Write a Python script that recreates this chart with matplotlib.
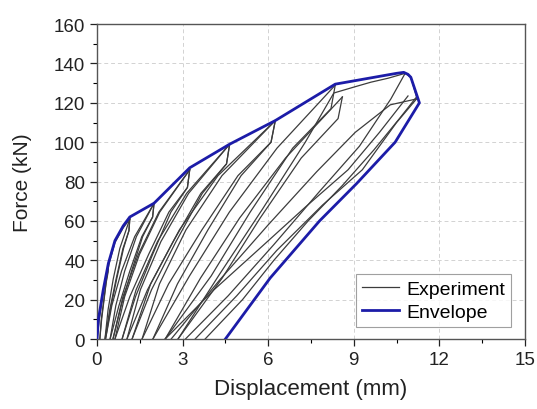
import matplotlib
matplotlib.use("Agg")
import matplotlib.pyplot as plt
from matplotlib.ticker import MultipleLocator

plt.rcParams['font.family'] = ['Liberation Sans', 'DejaVu Sans']

# ---- data: experiment branches (displacement mm, force kN) ----
exp_x = [
    [0.0, 0.08, 0.22, 0.4],
    [0.4, 0.39, 0.32, 0.24, 0.16, 0.1],
    [0.1, 0.15, 0.24, 0.33, 0.42, 0.63, 0.92, 1.15],
    [1.15, 1.12, 0.91, 0.67, 0.45, 0.28],
    [0.28, 0.39, 0.57, 0.80, 1.15],
    [1.15, 1.12, 0.93, 0.69, 0.47, 0.3],
    [0.3, 0.52, 0.86, 1.32, 2.0],
    [2.0, 1.95, 1.57, 1.15, 0.77, 0.46],
    [0.46, 0.66, 0.97, 1.38, 2.0],
    [2.0, 1.95, 1.60, 1.21, 0.85, 0.56],
    [0.56, 0.91, 1.45, 2.17, 3.25],
    [3.25, 3.17, 2.52, 1.81, 1.15, 0.63],
    [0.63, 0.97, 1.49, 2.20, 3.25],
    [3.25, 3.17, 2.59, 1.95, 1.35, 0.88],
    [0.88, 1.37, 2.12, 3.14, 4.65],
    [4.65, 4.54, 3.64, 2.67, 1.77, 1.05],
    [1.05, 1.52, 2.24, 3.21, 4.65],
    [4.65, 4.54, 3.69, 2.77, 1.91, 1.23],
    [1.23, 1.88, 2.89, 4.24, 6.25],
    [6.25, 6.1, 4.94, 3.68, 2.51, 1.58],
    [1.58, 2.19, 3.12, 4.38, 6.25],
    [6.25, 6.1, 5.05, 3.89, 2.82, 1.96],
    [1.96, 3.24, 4.64, 6.31, 8.35],
    [8.35, 8.2, 6.86, 5.37, 4.0, 2.39],
    [2.39, 3.63, 5.0, 6.61, 8.6],
    [8.6, 8.45, 7.16, 5.72, 4.39, 2.84],
    [2.84, 4.3, 5.8, 7.3, 8.3, 9.0, 9.6, 10.2, 10.8],
    [10.8, 11.0, 11.2],
    [11.2, 10.6, 9.7, 8.6, 7.4, 6.2, 5.1, 3.79],
    [3.44, 4.9, 6.3, 7.9, 9.3, 10.5, 11.2],
    [2.39, 4.1, 5.78, 7.3, 8.8, 9.9, 10.9],
    [10.8, 10.3, 9.2, 7.8, 6.2, 4.6, 3.1],
    [2.6, 4.3, 6.0, 7.7, 9.05, 10.28, 11.2],
]
exp_y = [
    [0, 10, 24, 38],
    [38, 34, 28.5, 19, 9.5, 0],
    [0, 10, 20, 30, 38, 49, 56.5, 61],
    [61, 55, 46, 30.5, 15, 0],
    [0, 15, 30.5, 46, 61],
    [61, 55, 46, 30.5, 15, 0],
    [0, 17, 34.5, 52, 69],
    [69, 62, 52, 34.5, 17, 0],
    [0, 17, 34.5, 52, 69],
    [69, 62, 52, 34.5, 17, 0],
    [0, 21.5, 43, 64.5, 86],
    [86, 77, 64.5, 43, 21.5, 0],
    [0, 21.5, 43, 64.5, 86],
    [86, 77, 64.5, 43, 21.5, 0],
    [0, 25, 49.5, 74, 99],
    [99, 89, 74, 49.5, 25, 0],
    [0, 25, 49.5, 74, 99],
    [99, 89, 74, 49.5, 25, 0],
    [0, 28, 55.5, 83, 111],
    [111, 100, 83, 55.5, 28, 0],
    [0, 28, 55.5, 83, 111],
    [111, 100, 83, 55.5, 28, 0],
    [0, 32, 64.5, 97, 129],
    [129, 117, 97, 64.5, 32, 0],
    [0, 31, 61.5, 92, 123],
    [123, 112, 92, 61.5, 31, 0],
    [0, 33, 66, 100, 125, 128, 130.5, 132.5, 135],
    [135, 133, 123],
    [123, 112, 96, 78, 60, 40, 20, 0],
    [0, 22, 45, 68, 86, 110, 122],
    [0, 25, 47, 67, 86, 105, 123.5],
    [135, 122, 98, 75, 48, 22, 0],
    [0, 30, 58, 85, 105, 119, 122],
]

# ---- data: envelope ----
env_x = [0.0, 0.05, 0.22, 0.4, 0.63, 0.92, 1.15, 2.0, 3.25, 4.65, 6.25, 8.35,
         10.5, 10.75, 10.9, 11.0, 11.3, 10.45, 9.1, 7.8, 6.07, 4.5]
env_y = [0, 10, 25, 38.5, 50, 57.5, 62, 69, 87, 99, 111, 129.5,
         135, 135.5, 134.5, 133, 120, 100, 79, 60, 31, 0]

x_ticks = [0, 3, 6, 9, 12, 15]
y_ticks = [0, 20, 40, 60, 80, 100, 120, 140, 160]

fig = plt.figure(figsize=(5.37, 4.10), dpi=100)
ax = fig.add_axes([0.1806, 0.1707, 0.797, 0.768])

gray = '#3c3c3c'
for i, (xs, ys) in enumerate(zip(exp_x, exp_y)):
    ax.plot(xs, ys, color=gray, lw=0.9, label='Experiment' if i == 0 else None, zorder=2)
ax.plot(env_x, env_y, color='#1c1ca8', lw=2.0, label='Envelope', zorder=3)

ax.set_xlim(0, 15)
ax.set_ylim(0, 160)
ax.set_xticks(x_ticks)
ax.set_yticks(y_ticks)
ax.xaxis.set_minor_locator(MultipleLocator(1.5))
ax.yaxis.set_minor_locator(MultipleLocator(10))
ax.tick_params(which='major', direction='out', length=5, width=0.9, labelsize=13.5, colors='#222222')
ax.tick_params(which='minor', direction='out', length=3, width=0.8)
ax.grid(True, which='major', color='#d2d2d2', linestyle=(0, (4, 3)), linewidth=0.7, zorder=0)
for s in ax.spines.values():
    s.set_color('#555555')
    s.set_linewidth(1.0)

ax.set_xlabel('Displacement (mm)', fontsize=16, color='#222222', labelpad=7)
ax.set_ylabel('Force (kN)', fontsize=15, color='#222222', labelpad=16)

leg = ax.legend(loc='lower right', fontsize=14, frameon=True, fancybox=False,
                edgecolor='#888888', handlelength=1.9, handletextpad=0.4,
                borderpad=0.3, labelspacing=0.3, borderaxespad=0,
                bbox_to_anchor=(0.968, 0.038))
leg.get_frame().set_linewidth(0.8)

fig.savefig('out.png', dpi=100)
